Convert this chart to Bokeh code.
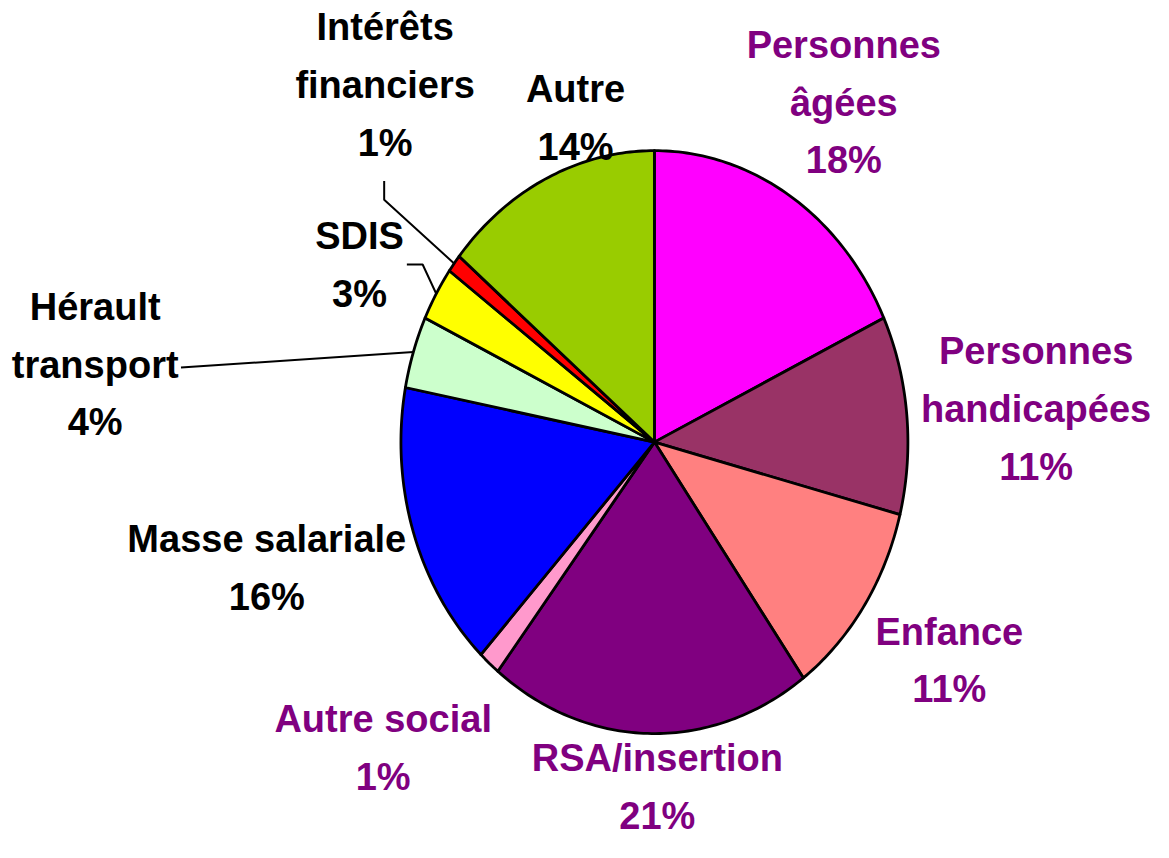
import numpy as np
from bokeh.plotting import figure
from bokeh.models import Range1d
from bokeh.core.properties import value
from bokeh.embed import file_html
from bokeh.resources import INLINE

# ---- data ----
categories = ["Personnes\nâgées", "Personnes\nhandicapées", "Enfance", "RSA/insertion",
              "Autre social", "Masse salariale", "Hérault\ntransport", "SDIS",
              "Intérêts\nfinanciers", "Autre"]
shares = [18, 11, 11, 20.6, 1.4, 16, 4, 3, 1, 14]
slice_colors = ["#FF00FF", "#993366", "#FF8080", "#800080", "#FF99CC",
                "#0000FF", "#CCFFCC", "#FFFF00", "#FF0000", "#99CC00"]
label_colors = ["#800080", "#800080", "#800080", "#800080", "#800080",
                "#000000", "#000000", "#000000", "#000000", "#000000"]

# ---- layout (coordinates in the reference's 1169x858 space) ----
W, H = 1153, 842
REF_W, REF_H = 1169, 858
CX, CY, RX, RY = 663, 450, 257, 297
label_pos = [(855, 45), (1050, 357), (962, 643), (666, 772), (388, 732),
             (270, 549), (96, 312), (364, 240), (390, 27), (583, 90)]
LINE_STEP = 59
FONT = "Liberation Sans"
FSIZE = "38px"

p = figure(width=W, height=H, output_backend="svg", toolbar_location=None,
           x_range=Range1d(0, REF_W), y_range=Range1d(REF_H, 0),
           min_border=0, border_fill_color="white", outline_line_color=None)
p.axis.visible = False
p.grid.visible = False

total = float(sum(shares))
cum = np.concatenate([[0.0], np.cumsum(shares)]) / total * 2 * np.pi
xs, ys, mids = [], [], []
for i in range(len(shares)):
    a0, a1 = cum[i], cum[i + 1]
    n = max(4, int((a1 - a0) / (2 * np.pi) * 400))
    t = np.linspace(a0, a1, n)
    xs.append(list(np.concatenate([[CX], CX + RX * np.sin(t)])))
    ys.append(list(np.concatenate([[CY], CY - RY * np.cos(t)])))
    mids.append((a0 + a1) / 2)

p.patches(xs, ys, fill_color=slice_colors, line_color="black", line_width=2.8,
          line_join="round")

# leader lines for the small slices
def rim(i):
    a = mids[i]
    return CX + RX * np.sin(a), CY - RY * np.cos(a)

idx_int = categories.index("Intérêts\nfinanciers")
idx_sdis = categories.index("SDIS")
idx_her = categories.index("Hérault\ntransport")
ex, ey = rim(idx_int)
p.line([389, 389, ex], [184, 203, ey], line_color="black", line_width=2)
ex, ey = rim(idx_sdis)
p.line([412, 428, ex], [269, 269, ey], line_color="black", line_width=2)
ex, ey = rim(idx_her)
p.line([183, ex], [374, ey], line_color="black", line_width=2)

# labels
tx, ty, tt, tc = [], [], [], []
for i, name in enumerate(categories):
    lines = name.split("\n") + [f"{round(shares[i])}%"]
    x0, y0 = label_pos[i]
    for k, ln in enumerate(lines):
        tx.append(x0)
        ty.append(y0 + k * LINE_STEP)
        tt.append(ln)
        tc.append(label_colors[i])

p.text(x=tx, y=ty, text=tt, text_color=tc, text_align="center",
       text_baseline="middle", text_font=value(FONT), text_font_size=FSIZE,
       text_font_style="bold")

open("out.html", "w").write(file_html(p, INLINE))
